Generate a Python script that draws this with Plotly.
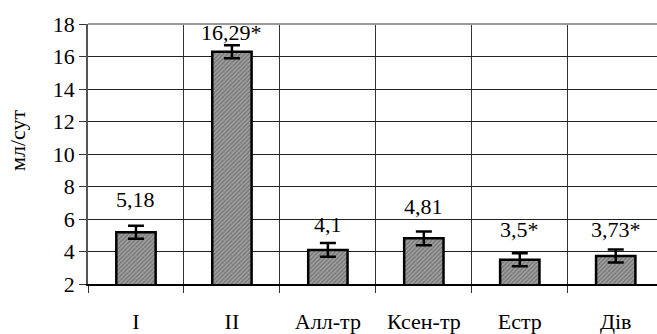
import plotly.graph_objects as go

categories = ["I", "II", "Алл-тр", "Ксен-тр", "Естр", "Дів"]
values = [5.18, 16.29, 4.1, 4.81, 3.5, 3.73]
errors = [0.4, 0.4, 0.42, 0.42, 0.4, 0.4]
labels = ["5,18", "16,29*", "4,1", "4,81", "3,5*", "3,73*"]
y_ticks = [2, 4, 6, 8, 10, 12, 14, 16, 18]

# style: pixel offsets of value labels above error bar tops
label_shift = [26, 13, 19, 25, 24, 20]

FONT = "Liberation Serif"
FS = 22

fig = go.Figure()
fig.add_trace(go.Bar(
    x=categories, y=values, base=0,
    width=0.41,
    marker=dict(color="#8a8a8a", line=dict(color="black", width=2.5),
                pattern=dict(shape="/", fgcolor="#4a4a4a", bgcolor="#a0a0a0",
                             size=3, solidity=0.45)),
    error_y=dict(type="data", array=errors, visible=True, color="black",
                 thickness=2.5, width=8),
    showlegend=False,
))

for c, v, e, t, s in zip(categories, values, errors, labels, label_shift):
    fig.add_annotation(x=c, y=v + e, text=t, showarrow=False, yshift=s,
                       font=dict(family=FONT, size=FS, color="black"))

fig.add_annotation(xref="paper", yref="paper", x=-(88 - 17) / 569, y=0.55,
                   text="мл/сут", textangle=-90, showarrow=False,
                   xanchor="center", yanchor="middle",
                   font=dict(family=FONT, size=FS, color="black"))

fig.update_layout(
    width=657, height=334,
    margin=dict(l=88, r=0, t=24, b=46),
    paper_bgcolor="white", plot_bgcolor="white",
    bargap=0.59,
)
fig.update_xaxes(
    range=[-0.5, 5.43], tickson="boundaries", ticks="outside", ticklen=7,
    tickcolor="#333", showgrid=True, gridcolor="#333", gridwidth=1,
    showline=True, linecolor="black", linewidth=1.5,
    ticklabelstandoff=17,
    tickfont=dict(family=FONT, size=FS, color="black"),
)
fig.update_yaxes(
    range=[2, 18], tickvals=y_ticks, ticks="outside", ticklen=7,
    tickcolor="#333", showgrid=True, gridcolor="#222", gridwidth=1,
    showline=True, linecolor="#555", linewidth=1.5, mirror=False,
    tickfont=dict(family=FONT, size=FS, color="black"),
    zeroline=False,
)
fig.add_shape(type="line", xref="paper", yref="paper", x0=0, x1=1, y0=1, y1=1,
              line=dict(color="#999", width=2))

fig.write_html("out.html")
